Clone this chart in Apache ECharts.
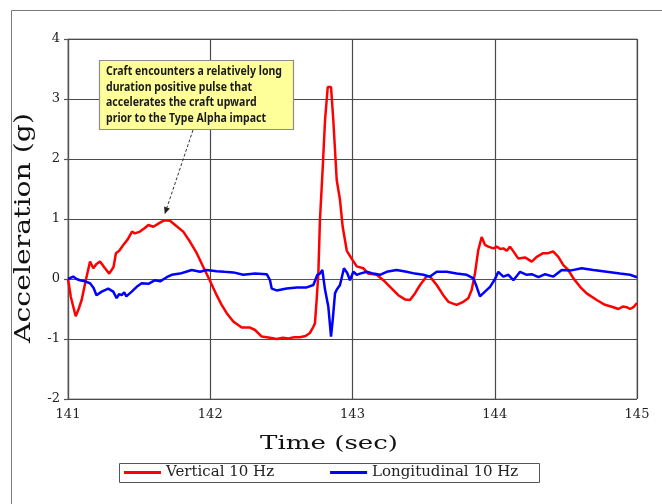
<!DOCTYPE html>
<html>
<head>
<meta charset="utf-8">
<title>Acceleration vs Time</title>
<script src="https://cdn.jsdelivr.net/npm/echarts@6/dist/echarts.min.js"></script>
<style>
  html, body { margin: 0; padding: 0; background: #ffffff; }
  #chart { width: 662px; height: 504px; }
</style>
</head>
<body>
<div id="chart"></div>
<script>
// Vertical channel, 10 Hz filtered (time in s, acceleration in g)
const verticalTime = [
  141.000, 141.020, 141.054, 141.075, 141.096, 141.127, 141.155, 141.178, 141.200, 141.225,
  141.260, 141.290, 141.320, 141.337, 141.360, 141.390, 141.420, 141.450, 141.470, 141.506,
  141.540, 141.565, 141.600, 141.647, 141.680, 141.717, 141.764, 141.810, 141.858, 141.905,
  141.951, 141.998, 142.045, 142.080, 142.116, 142.162, 142.221, 142.280, 142.315, 142.362,
  142.420, 142.467, 142.510, 142.549, 142.590, 142.630, 142.670, 142.700, 142.720, 142.736,
  142.748, 142.760, 142.771, 142.790, 142.807, 142.826, 142.849, 142.865, 142.889, 142.912,
  142.931, 142.960, 142.994, 143.030, 143.076, 143.110, 143.170, 143.217, 143.264, 143.322,
  143.369, 143.404, 143.439, 143.475, 143.520, 143.545, 143.592, 143.638, 143.674, 143.732,
  143.779, 143.814, 143.838, 143.861, 143.884, 143.908, 143.931, 143.955, 143.990, 144.014,
  144.040, 144.060, 144.085, 144.107, 144.131, 144.166, 144.213, 144.260, 144.295, 144.340,
  144.377, 144.410, 144.447, 144.482, 144.517, 144.553, 144.600, 144.646, 144.717, 144.775,
  144.834, 144.869, 144.900, 144.928, 144.951, 144.975, 145.000
];
const verticalG = [
  0.00, -0.30, -0.62, -0.50, -0.35, 0.00, 0.29, 0.18, 0.25, 0.29,
  0.18, 0.09, 0.20, 0.43, 0.47, 0.57, 0.66, 0.79, 0.76, 0.79,
  0.85, 0.90, 0.87, 0.94, 0.98, 0.97, 0.88, 0.79, 0.62, 0.43,
  0.20, -0.03, -0.27, -0.43, -0.57, -0.71, -0.81, -0.81, -0.85, -0.96,
  -0.98, -1.00, -0.98, -0.99, -0.97, -0.97, -0.95, -0.90, -0.82, -0.74,
  -0.35, 0.10, 0.98, 1.82, 2.65, 3.20, 3.20, 2.65, 1.65, 1.32,
  0.87, 0.47, 0.34, 0.21, 0.18, 0.09, 0.07, -0.02, -0.13, -0.27,
  -0.34, -0.35, -0.24, -0.10, 0.04, 0.04, -0.10, -0.27, -0.38, -0.43,
  -0.38, -0.32, -0.18, 0.09, 0.48, 0.70, 0.57, 0.54, 0.51, 0.54,
  0.50, 0.51, 0.47, 0.54, 0.46, 0.34, 0.36, 0.29, 0.37, 0.43,
  0.43, 0.46, 0.37, 0.23, 0.15, 0.01, -0.13, -0.24, -0.35, -0.43,
  -0.47, -0.50, -0.46, -0.47, -0.50, -0.47, -0.40
];

// Longitudinal channel, 10 Hz filtered
const longitudinalTime = [
  141.000, 141.037, 141.060, 141.084, 141.120, 141.155, 141.180, 141.200, 141.237, 141.283,
  141.318, 141.342, 141.360, 141.377, 141.395, 141.410, 141.448, 141.483, 141.518, 141.565,
  141.612, 141.647, 141.694, 141.729, 141.787, 141.830, 141.870, 141.928, 141.975, 142.045,
  142.100, 142.162, 142.232, 142.315, 142.397, 142.420, 142.432, 142.467, 142.537, 142.608,
  142.678, 142.725, 142.753, 142.771, 142.788, 142.807, 142.830, 142.849, 142.861, 142.877,
  142.889, 142.912, 142.940, 142.963, 142.982, 143.006, 143.030, 143.053, 143.100, 143.146,
  143.193, 143.240, 143.310, 143.380, 143.439, 143.498, 143.545, 143.592, 143.662, 143.732,
  143.803, 143.850, 143.873, 143.896, 143.931, 143.967, 144.002, 144.025, 144.060, 144.096,
  144.131, 144.178, 144.225, 144.260, 144.307, 144.354, 144.412, 144.471, 144.529, 144.611,
  144.693, 144.787, 144.880, 144.951, 145.000
];
const longitudinalG = [
  0.00, 0.04, 0.00, -0.02, -0.04, -0.07, -0.15, -0.27, -0.21, -0.16,
  -0.21, -0.32, -0.25, -0.27, -0.22, -0.29, -0.21, -0.13, -0.07, -0.08,
  -0.02, -0.04, 0.03, 0.07, 0.09, 0.12, 0.15, 0.12, 0.15, 0.13,
  0.12, 0.11, 0.07, 0.09, 0.08, -0.02, -0.16, -0.19, -0.16, -0.14,
  -0.14, -0.10, 0.07, 0.09, 0.15, -0.18, -0.46, -0.96, -0.68, -0.24,
  -0.18, -0.10, 0.18, 0.10, -0.02, 0.12, 0.07, 0.09, 0.12, 0.09,
  0.07, 0.12, 0.15, 0.12, 0.09, 0.07, 0.04, 0.12, 0.12, 0.09,
  0.07, 0.01, -0.13, -0.29, -0.21, -0.13, 0.00, 0.12, 0.04, 0.07,
  -0.02, 0.12, 0.07, 0.08, 0.03, 0.08, 0.04, 0.15, 0.14, 0.18,
  0.15, 0.12, 0.09, 0.07, 0.03
];

const seriesNames = ['Vertical 10 Hz', 'Longitudinal 10 Hz'];
const seriesColors = ['#ff0000', '#0000ff'];

// Axis ranges and ticks
const xRange = { min: 141, max: 145, interval: 1 };
const yRange = { min: -2, max: 4, interval: 1 };
const xTitle = 'Time (sec)';
const yTitle = 'Acceleration (g)';

// Callout text and the point it refers to
const calloutLines = [
  'Craft encounters a relatively long',
  'duration positive pulse that',
  'accelerates the craft upward',
  'prior to the Type Alpha impact'
];
const calloutTarget = [141.68, 0.98];

const pairs = (xs, ys) => xs.map((x, i) => [x, ys[i]]);

// Text stretched horizontally to a target width (keeps the wide Excel look)
const measureCtx = document.createElement('canvas').getContext('2d');
function stretch(text, font, width) {
  measureCtx.font = font;
  return width / measureCtx.measureText(text).width;
}

const serif = '"DejaVu Serif", "Liberation Serif", serif';
const calloutFont = 'bold 12px "Noto Sans", "Open Sans", sans-serif';
const xTitleFont = '19px ' + serif;
const yTitleFont = '22px ' + serif;

const chart = echarts.init(document.getElementById('chart'), null, { renderer: 'canvas' });

const option = {
  animation: false,
  backgroundColor: '#ffffff',
  grid: {
    left: 68, right: 25, top: 39, bottom: 105,
    show: true, borderColor: '#8a8a8a', borderWidth: 1, backgroundColor: 'transparent'
  },
  legend: {
    left: 119, top: 463,
    padding: [2, 5],
    itemGap: 56,
    itemWidth: 37,
    itemHeight: 3,
    icon: 'rect',
    data: seriesNames,
    textStyle: { fontFamily: serif, fontSize: 15, color: '#222' }
  },
  xAxis: {
    type: 'value',
    min: xRange.min, max: xRange.max, interval: xRange.interval,
    axisLine: { show: true, lineStyle: { color: '#555', width: 1.2 } },
    axisTick: { show: true, inside: false, length: 4, lineStyle: { color: '#555', width: 1.2 } },
    axisLabel: { margin: 9, fontFamily: serif, fontSize: 13, color: '#222' },
    splitLine: { show: true, lineStyle: { color: '#4a4a4a', width: 1.2 } }
  },
  yAxis: {
    type: 'value',
    min: yRange.min, max: yRange.max, interval: yRange.interval,
    axisLine: { show: true, lineStyle: { color: '#555', width: 1.2 } },
    axisTick: { show: true, inside: false, length: 4, lineStyle: { color: '#555', width: 1.2 } },
    axisLabel: { margin: 8, fontFamily: serif, fontSize: 13, color: '#222' },
    splitLine: { show: true, lineStyle: { color: '#4a4a4a', width: 1.2 } }
  },
  series: [
    {
      name: seriesNames[0], type: 'line', data: pairs(verticalTime, verticalG),
      showSymbol: false, symbol: 'none', smooth: false,
      lineStyle: { color: seriesColors[0], width: 2.5 }, itemStyle: { color: seriesColors[0] },
      z: 3
    },
    {
      name: seriesNames[1], type: 'line', data: pairs(longitudinalTime, longitudinalG),
      showSymbol: false, symbol: 'none', smooth: false,
      lineStyle: { color: seriesColors[1], width: 2.5 }, itemStyle: { color: seriesColors[1] },
      z: 4
    }
  ]
};
chart.setOption(option);

// Titles, legend frame, outer frame and the callout with its arrow
const tip = chart.convertToPixel({ gridIndex: 0 }, calloutTarget);
const box = { x: 99, y: 60, w: 194, h: 69 };
const tail = [193, box.y + box.h + 1];
const head = [tip[0], tip[1] - 6];
const dx = head[0] - tail[0], dy = head[1] - tail[1];
const len = Math.hypot(dx, dy), ux = dx / len, uy = dy / len;
const ah = 7, aw = 3;
const base = [head[0] - ux * ah, head[1] - uy * ah];

const calloutScale = stretch(calloutLines[0], calloutFont, 176);

chart.setOption({
  graphic: [
    {
      type: 'rect', silent: true, z: 0,
      shape: { x: 11.5, y: 10.5, width: 700, height: 600 },
      style: { fill: 'none', stroke: '#7a7a7a', lineWidth: 1 }
    },
    {
      type: 'rect', silent: true, z: 10,
      shape: { x: 119.5, y: 463.5, width: 420, height: 19 },
      style: { fill: 'none', stroke: '#555', lineWidth: 1 }
    },
    {
      type: 'text', silent: true, z: 10,
      x: 329, y: 444,
      scaleX: stretch(xTitle, xTitleFont, 138),
      style: { text: xTitle, font: xTitleFont, fill: '#111', align: 'center', verticalAlign: 'middle' }
    },
    {
      type: 'text', silent: true, z: 10,
      x: 24, y: 228, rotation: Math.PI / 2,
      scaleX: stretch(yTitle, yTitleFont, 230),
      style: { text: yTitle, font: yTitleFont, fill: '#111', align: 'center', verticalAlign: 'middle' }
    },
    {
      type: 'rect', silent: true, z: 20,
      shape: { x: box.x + 0.5, y: box.y + 0.5, width: box.w, height: box.h },
      style: { fill: '#ffff99', stroke: '#8c8c8c', lineWidth: 1.2 }
    },
    ...calloutLines.map((line, i) => ({
      type: 'text', silent: true, z: 21,
      x: 106, y: 72 + i * 15.4,
      scaleX: calloutScale,
      style: { text: line, font: calloutFont, fill: '#1a1a1a', align: 'left', verticalAlign: 'middle' }
    })),
    {
      type: 'line', silent: true, z: 20,
      shape: { x1: tail[0], y1: tail[1], x2: base[0], y2: base[1] },
      style: { stroke: '#333', lineWidth: 1, lineDash: [3, 2] }
    },
    {
      type: 'polygon', silent: true, z: 20,
      shape: { points: [head, [base[0] - uy * aw, base[1] + ux * aw], [base[0] + uy * aw, base[1] - ux * aw]] },
      style: { fill: '#222' }
    }
  ]
});
</script>
</body>
</html>
